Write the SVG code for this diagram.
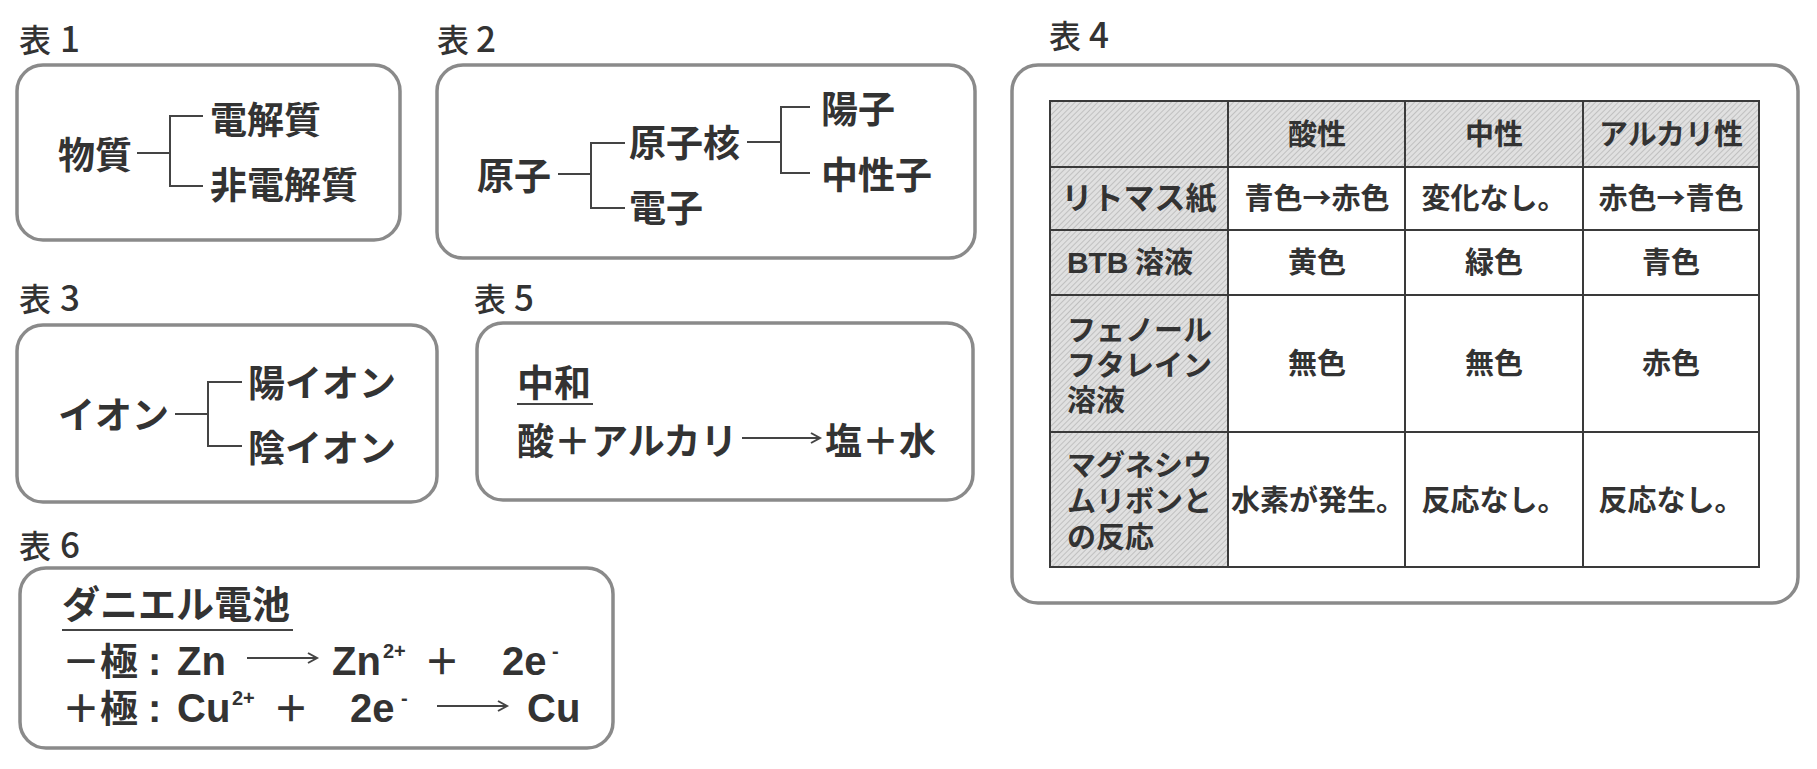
<svg xmlns="http://www.w3.org/2000/svg" width="1817" height="769" viewBox="0 0 1817 769">
<defs>
<pattern id="hatch" width="4" height="4" patternUnits="userSpaceOnUse" patternTransform="rotate(45)">
<rect width="4" height="4" fill="#e0e0e0"/>
<line x1="0" y1="0" x2="0" y2="4" stroke="#b2b2b2" stroke-width="1.4"/>
</pattern>
</defs>
<style>
.frame{fill:#fff;stroke:#8a8a8a;stroke-width:3.5}
.h{font-family:'Noto Sans CJK JP',sans-serif;font-size:32px;font-weight:500;fill:#333}
.hd{font-family:'Noto Sans CJK JP',sans-serif;font-size:35px}
.t{font-family:'Noto Sans CJK JP',sans-serif;font-weight:700;font-size:37px;fill:#333}
.tb{font-family:'Noto Sans CJK JP',sans-serif;font-weight:700;font-size:29px;fill:#333}
.c{text-anchor:middle}
.lat{font-family:'Liberation Sans',Arial,sans-serif;font-weight:700;font-size:40px;fill:#333}
.sup{font-family:'Liberation Sans',Arial,sans-serif;font-weight:700;font-size:20px;fill:#333}
.ln{stroke:#444;stroke-width:2;fill:none}
.grid{stroke:#3a3a3a;stroke-width:2;fill:none}
</style>
<rect width="1817" height="769" fill="#fff"/>

<g id="hyo1">
<text class="h" x="19" y="52">表<tspan class="hd" x="60">1</tspan></text>
<rect class="frame" x="17" y="65" width="383" height="175" rx="26"/>
<text class="t" x="58" y="169">物質</text>
<text class="t" x="210" y="134">電解質</text>
<text class="t" x="210" y="199">非電解質</text>
</g>

<g id="hyo2">
<text class="h" x="437" y="52">表<tspan class="hd" x="476">2</tspan></text>
<rect class="frame" x="437" y="65" width="538" height="193" rx="26"/>
<text class="t" x="477" y="190">原子</text>
<text class="t" x="629" y="157">原子核</text>
<text class="t" x="629" y="222">電子</text>
<text class="t" x="821" y="123">陽子</text>
<text class="t" x="821" y="189">中性子</text>
</g>

<g id="hyo3">
<text class="h" x="19" y="311">表<tspan class="hd" x="60">3</tspan></text>
<rect class="frame" x="17" y="325" width="420" height="177" rx="26"/>
<text class="t" x="58" y="429">イオン</text>
<text class="t" x="248" y="397">陽イオン</text>
<text class="t" x="248" y="462">陰イオン</text>
</g>

<g id="hyo5">
<text class="h" x="474" y="311">表<tspan class="hd" x="514">5</tspan></text>
<rect class="frame" x="477" y="323" width="496" height="177" rx="26"/>
<text class="t" x="517" y="397">中和</text>
<line class="ln" x1="517" y1="404" x2="593" y2="404"/>
<text class="t" x="517" y="455">酸＋アルカリ</text>
<line class="ln" x1="742" y1="438" x2="819" y2="438"/>
<path class="ln" d="M811,433 L820,438 L811,443"/>
<text class="t" x="825" y="455">塩＋水</text>
</g>

<g id="hyo6">
<text class="h" x="19" y="558">表<tspan class="hd" x="60">6</tspan></text>
<rect class="frame" x="20" y="568" width="593" height="180" rx="26"/>
<text class="t" x="62" y="618" style="font-size:38px">ダニエル電池</text>
<line class="ln" x1="62" y1="630" x2="293" y2="630"/>
<text class="t" x="62" y="675" style="font-size:38px">－極</text>
<text class="lat" x="148" y="675">:</text>
<text class="lat" x="177" y="675">Zn</text>
<line class="ln" x1="247" y1="658" x2="316" y2="658"/>
<path class="ln" d="M308,653 L317,658 L308,663"/>
<text class="lat" x="332" y="675">Zn</text>
<text class="sup" x="383" y="658">2+</text>
<text class="t" x="424" y="675" style="font-size:36px">＋</text>
<text class="lat" x="502" y="675">2e</text>
<text class="sup" x="552" y="658">-</text>
<text class="t" x="62" y="722" style="font-size:38px">＋極</text>
<text class="lat" x="148" y="722">:</text>
<text class="lat" x="177" y="722">Cu</text>
<text class="sup" x="232" y="705">2+</text>
<text class="t" x="273" y="722" style="font-size:36px">＋</text>
<text class="lat" x="350" y="722">2e</text>
<text class="sup" x="401" y="705">-</text>
<line class="ln" x1="437" y1="706" x2="506" y2="706"/>
<path class="ln" d="M498,701 L507,706 L498,711"/>
<text class="lat" x="527" y="722">Cu</text>
</g>

<g id="hyo4">
<text class="h" x="1049" y="48">表<tspan class="hd" x="1089">4</tspan></text>
<rect class="frame" x="1012" y="65" width="786" height="538" rx="26"/>
<rect x="1050" y="101" width="709" height="66" fill="url(#hatch)"/>
<rect x="1050" y="167" width="178" height="400" fill="url(#hatch)"/>
<path class="grid" d="M1050,101 H1759 V567 H1050 Z M1050,167 H1759 M1050,230 H1759 M1050,295 H1759 M1050,432 H1759 M1228,101 V567 M1405,101 V567 M1583,101 V567"/>
<text class="tb c" x="1317" y="145">酸性</text>
<text class="tb c" x="1494" y="145">中性</text>
<text class="tb c" x="1671" y="145">アルカリ性</text>
<text class="tb c" x="1139" y="209" style="font-size:31px">リトマス紙</text>
<text class="tb c" x="1130" y="273"><tspan class="lat" style="font-size:30px">BTB</tspan> 溶液</text>
<text class="tb" x="1067" y="341">フェノール</text>
<text class="tb" x="1067" y="376">フタレイン</text>
<text class="tb" x="1067" y="411">溶液</text>
<text class="tb" x="1067" y="476">マグネシウ</text>
<text class="tb" x="1067" y="512">ムリボンと</text>
<text class="tb" x="1067" y="548">の反応</text>
<text class="tb c" x="1317" y="209">青色→赤色</text>
<text class="tb c" x="1494" y="209">変化なし。</text>
<text class="tb c" x="1671" y="209">赤色→青色</text>
<text class="tb c" x="1317" y="273">黄色</text>
<text class="tb c" x="1494" y="273">緑色</text>
<text class="tb c" x="1671" y="273">青色</text>
<text class="tb c" x="1317" y="374">無色</text>
<text class="tb c" x="1494" y="374">無色</text>
<text class="tb c" x="1671" y="374">赤色</text>
<text class="tb c" x="1318" y="511">水素が発生。</text>
<text class="tb c" x="1494" y="511">反応なし。</text>
<text class="tb c" x="1671" y="511">反応なし。</text>
</g>

<g id="connectors">
<path class="ln" d="M137,153 H170 M203,116 H170 V186 H203"/>
<path class="ln" d="M558,174 H591 M625,143 H591 V208 H625"/>
<path class="ln" d="M747,142 H781 M810,107 H781 V173 H810"/>
<path class="ln" d="M175,414 H208 M242,382 H208 V446 H242"/>
</g>
</svg>
